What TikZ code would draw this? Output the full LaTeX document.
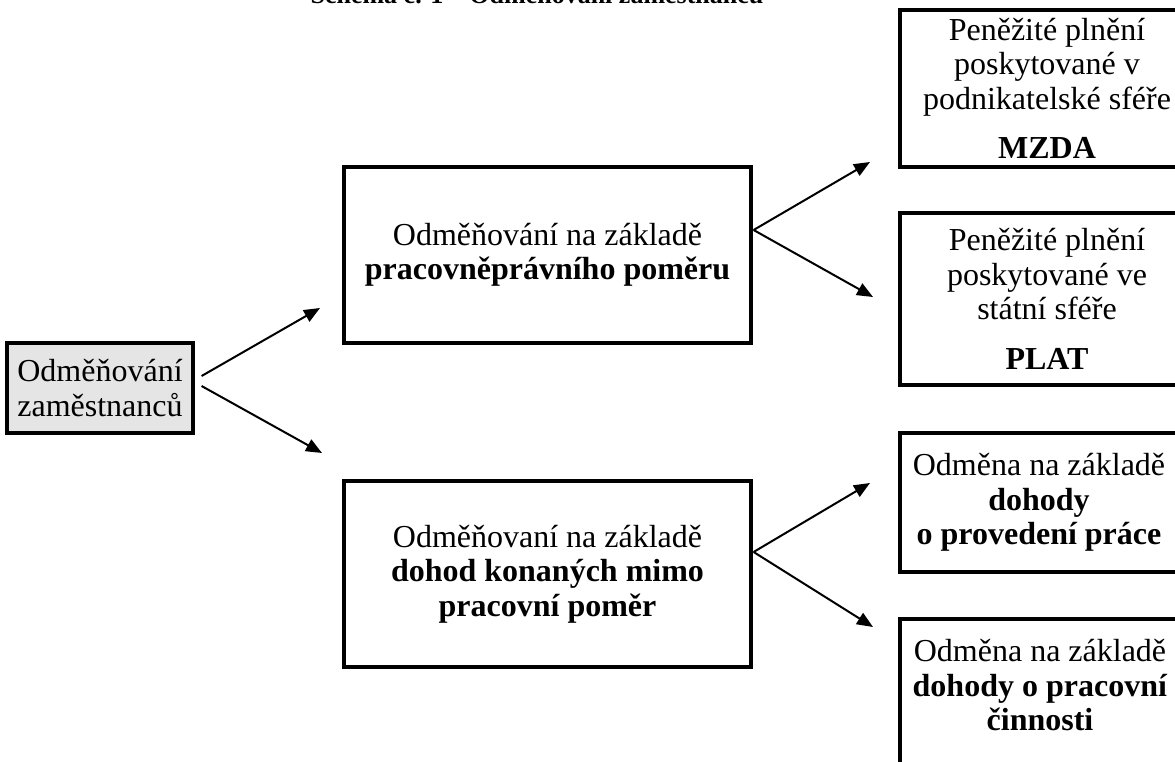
\documentclass[tikz,border=0pt]{standalone}
\usepackage{fontspec}
\setmainfont{Liberation Serif}
\usetikzlibrary{arrows.meta,positioning}

\begin{document}
\begin{tikzpicture}[
  x=1pt,y=-1pt,
  >={Triangle[length=16pt,width=13pt]},
  box/.style={draw,line width=3.2pt,inner sep=0pt,align=center,
              font=\fontsize{32}{34.5}\selectfont},
  arr/.style={draw,line width=2pt,->},
  titlelbl/.style={font=\fontsize{26}{30}\selectfont\bfseries,inner sep=0pt}
]
\useasboundingbox (0,0) rectangle (1175,762);

% caption of the scheme, mostly cut off by the top edge
\node[titlelbl,anchor=base] (tit) at (537,4) {Schéma č. 1 – Odměňování zaměstnanců};

\node[box,fill=black!10,minimum width=186pt,minimum height=90pt]
      (odm) at (100,388) {Odměňování\\zaměstnanců};

\node[box,minimum width=407pt,minimum height=176pt]
      (prac) at (547.5,255) {Odměňování na základě\\\textbf{pracovněprávního poměru}};
\node[box,minimum width=407pt,minimum height=186pt]
      (dohod) at (547.5,574) {Odměňovaní na základě\\\textbf{dohod konaných mimo}\\\textbf{pracovní poměr}};

\node[box,minimum width=294pt,minimum height=157pt]
      (mzda) at (1047,88.5) {Peněžité plnění\\poskytované v\\podnikatelské sféře\\[15pt]\textbf{MZDA}};
\node[box,minimum width=294pt,minimum height=172pt]
      (plat) at (1047,299) {Peněžité plnění\\poskytované ve\\státní sféře\\[15pt]\textbf{PLAT}};
\node[box,minimum width=278pt,minimum height=139pt]
      (dpp) at (1039,502.5) {Odměna na základě\\\textbf{dohody}\\\textbf{o provedení práce}};
\node[box,minimum width=280pt,minimum height=176pt,text depth=44pt]
      (dpc) at (1040,707) {Odměna na základě\\\textbf{dohody o pracovní}\\\textbf{činnosti}};

% arrow tips stop short of the boxes
\coordinate (t1) at (320,308);
\coordinate (t2) at (322,453);
\coordinate (t3) at (870,162);
\coordinate (t4) at (873,297);
\coordinate (t5) at (870,483);
\coordinate (t6) at (873,627);

\draw[arr] ([xshift=7pt,yshift=12pt]odm.east) -- (t1);
\draw[arr] ([xshift=7pt,yshift=2pt]odm.east)  -- (t2);
\draw[arr] ([xshift=1pt,yshift=25pt]prac.east) -- (t3);
\draw[arr] ([xshift=1pt,yshift=25pt]prac.east) -- (t4);
\draw[arr] ([xshift=1pt,yshift=22pt]dohod.east) -- (t5);
\draw[arr] ([xshift=1pt,yshift=22pt]dohod.east) -- (t6);
\end{tikzpicture}
\end{document}
